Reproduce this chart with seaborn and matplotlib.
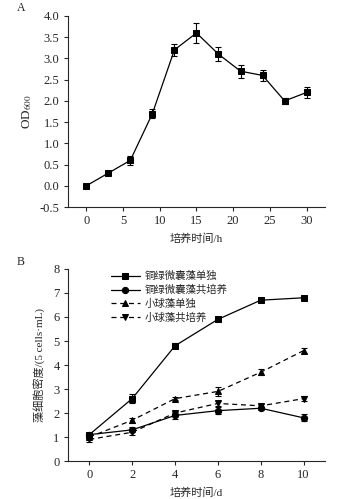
import numpy as np
import pandas as pd
import matplotlib
matplotlib.use("Agg")
import matplotlib.pyplot as plt
import seaborn as sns

# Panel A data
time_h = [0, 3, 6, 9, 12, 15, 18, 21, 24, 27, 30]
od600 = [0.0, 0.3, 0.6, 1.7, 3.2, 3.6, 3.1, 2.7, 2.6, 2.0, 2.2]
od600_err = [0.02, 0.03, 0.11, 0.1, 0.14, 0.23, 0.17, 0.15, 0.12, 0.07, 0.13]

# Panel B data
time_d = [0, 2, 4, 6, 8, 10]
ma_alone = [1.1, 2.6, 4.8, 5.9, 6.7, 6.8]
ma_alone_err = [0.06, 0.2, 0.1, 0.08, 0.05, 0.08]
ma_co = [1.1, 1.3, 1.9, 2.1, 2.2, 1.8]
ma_co_err = [0.06, 0.1, 0.15, 0.15, 0.06, 0.15]
ch_alone = [1.0, 1.7, 2.6, 2.9, 3.7, 4.6]
ch_alone_err = [0.06, 0.1, 0.05, 0.2, 0.12, 0.1]
ch_co = [0.9, 1.2, 2.0, 2.4, 2.3, 2.6]
ch_co_err = [0.1, 0.1, 0.1, 0.12, 0.06, 0.1]
series_names = ["铜绿微囊藻单独", "铜绿微囊藻共培养", "小球藻单独", "小球藻共培养"]

sns.set_style("ticks")
plt.rcParams['font.family'] = ['Liberation Serif', 'Noto Sans CJK SC']
plt.rcParams['mathtext.fontset'] = 'stix'
plt.rcParams['xtick.direction'] = 'out'
plt.rcParams['ytick.direction'] = 'out'
plt.rcParams['xtick.major.size'] = 3
plt.rcParams['ytick.major.size'] = 3
plt.rcParams['xtick.major.width'] = 0.8
plt.rcParams['ytick.major.width'] = 0.8
plt.rcParams['axes.linewidth'] = 0.8

fig = plt.figure(figsize=(3.48, 4.99), dpi=100)
ax1 = fig.add_axes([0.195, 0.585, 0.739, 0.383])
ax2 = fig.add_axes([0.195, 0.076, 0.739, 0.385])

# A: OD600 growth curve
dfa = pd.DataFrame({'t': time_h, 'od': od600})
sns.lineplot(data=dfa, x='t', y='od', ax=ax1, color='black', lw=0.9,
             marker='s', markersize=4.5, markeredgecolor='black')
ax1.errorbar(time_h, od600, yerr=od600_err, fmt='none', ecolor='black',
             elinewidth=0.8, capsize=2, capthick=0.8)
ax1.set_xlim(-2.5, 32.5)
ax1.set_ylim(-0.5, 4.0)
ax1.set_xticks(range(0, 31, 5))
ax1.set_yticks(np.arange(-0.5, 4.01, 0.5))
ax1.set_yticklabels([f"{v:.1f}" for v in np.arange(-0.5, 4.01, 0.5)])
ax1.set_xlabel("培养时间/h", fontsize=8, labelpad=4)
ax1.set_ylabel("OD$_{600}$", fontsize=9.5, labelpad=4)
ax1.tick_params(labelsize=9, pad=3)
sns.despine(ax=ax1)

# B: cell density
dfb = pd.DataFrame({
    't': time_d * 4,
    'v': ma_alone + ma_co + ch_alone + ch_co,
    'e': ma_alone_err + ma_co_err + ch_alone_err + ch_co_err,
    's': [n for n in series_names for _ in time_d],
})
markers = ['s', 'o', '^', 'v']
dashed = [False, False, True, True]
for name, mk, ds in zip(series_names, markers, dashed):
    sub = dfb[dfb['s'] == name]
    kw = {'dashes': (4, 3)} if ds else {}
    sns.lineplot(data=sub, x='t', y='v', ax=ax2, color='black', lw=0.9,
                 marker=mk, markersize=4.5, markeredgecolor='black',
                 label=name, **kw)
    ax2.errorbar(sub['t'], sub['v'], yerr=sub['e'], fmt='none', ecolor='black',
                 elinewidth=0.8, capsize=2, capthick=0.8)
ax2.set_xlim(-1, 11)
ax2.set_ylim(0, 8)
ax2.set_xticks(time_d)
ax2.set_yticks(range(0, 9))
ax2.set_xlabel("培养时间/d", fontsize=8, labelpad=4)
ax2.set_ylabel("藻细胞密度/(5 cells·mL)", fontsize=8, labelpad=5)
ax2.tick_params(labelsize=9, pad=3)
sns.despine(ax=ax2)
ax2.legend(loc='upper left', bbox_to_anchor=(0.15, 1.01), frameon=False,
           fontsize=7.5, handlelength=2.8, labelspacing=0.35,
           borderaxespad=0, handletextpad=0.5)

fig.text(0.049, 0.984, "A", fontsize=8.5, va='center')
fig.text(0.049, 0.475, "B", fontsize=8.5, va='center')

fig.savefig("out.png", dpi=100)
